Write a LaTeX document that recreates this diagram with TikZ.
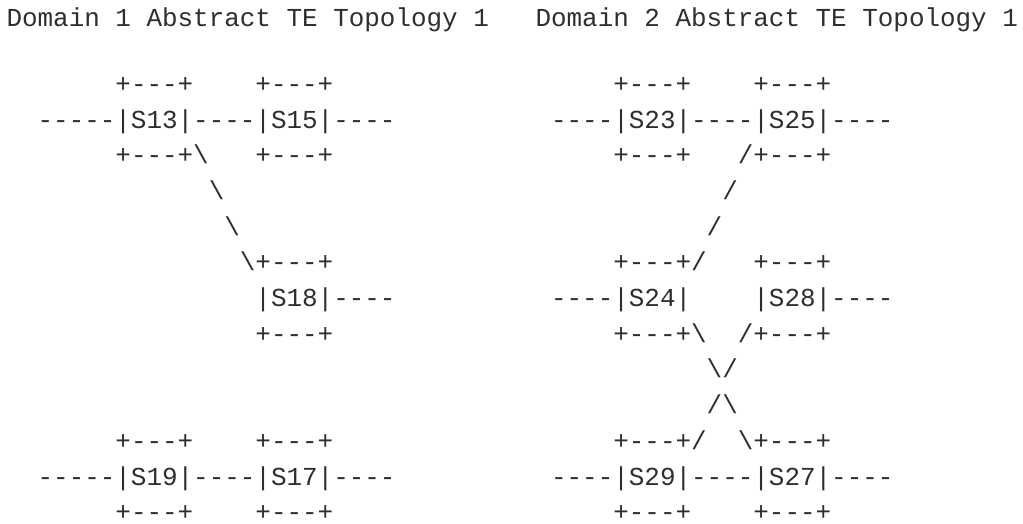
\documentclass[tikz,border=0pt]{standalone}
\usepackage{fontspec}
\newfontfamily\asciifont{Liberation Mono}
\newcommand\bksl{\textbackslash}

\begin{document}
\begin{tikzpicture}[x=0.3856pt,y=-0.3856pt,
  ascii/.style={anchor=base west,inner sep=0pt,text=black!82,
    font=\asciifont\fontsize{10}{12}\selectfont}]
  \useasboundingbox (0,0) rectangle (1023,523);
  \node[ascii] (title1) at (6,26) {Domain 1 Abstract TE Topology 1};
  \node[ascii] (title2) at ({6+34*15.56},26) {Domain 2 Abstract TE Topology 1};
  \foreach \c/\r/\t in {
      7/2/{+---+}, 16/2/{+---+}, 39/2/{+---+}, 48/2/{+---+},
      2/3/{-----|S13|----|S15|----}, 35/3/{----|S23|----|S25|----},
      7/4/{+---+\bksl}, 16/4/{+---+}, 39/4/{+---+}, 47/4/{/+---+},
      13/5/{\bksl}, 46/5/{/},
      14/6/{\bksl}, 45/6/{/},
      15/7/{\bksl+---+}, 39/7/{+---+/}, 48/7/{+---+},
      16/8/{|S18|----}, 35/8/{----|S24|}, 48/8/{|S28|----},
      16/9/{+---+}, 39/9/{+---+\bksl}, 47/9/{/+---+},
      45/10/{\bksl/},
      45/11/{/\bksl},
      7/12/{+---+}, 16/12/{+---+}, 39/12/{+---+/}, 47/12/{\bksl+---+},
      2/13/{-----|S19|----|S17|----}, 35/13/{----|S29|----|S27|----},
      7/14/{+---+}, 16/14/{+---+}, 39/14/{+---+}, 48/14/{+---+}}
    \node[ascii] (a\r-\c) at ({6+15.56*\c},{128+35.7*(\r-3)}) {\t};
\end{tikzpicture}
\end{document}
